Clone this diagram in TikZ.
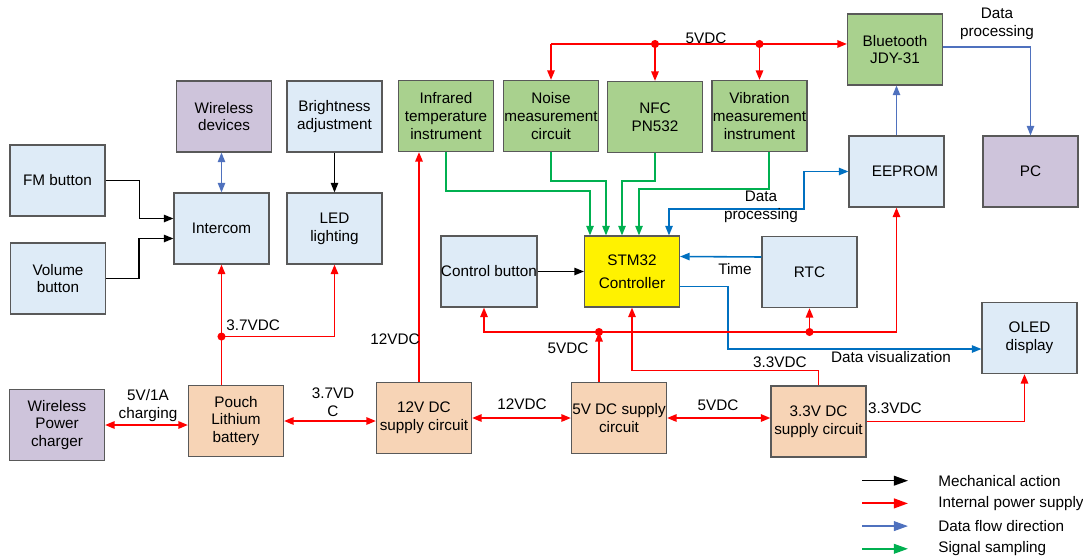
\documentclass[tikz,border=0pt]{standalone}
\usepackage{fontspec}
\setmainfont{Liberation Sans}
\usetikzlibrary{calc,arrows.meta}

\definecolor{lightbox}{RGB}{222,235,247}
\definecolor{purplebox}{RGB}{206,196,219}
\definecolor{greenbox}{RGB}{169,209,142}
\definecolor{peachbox}{RGB}{247,212,182}
\definecolor{pwred}{RGB}{255,0,0}
\definecolor{datablue}{RGB}{0,112,192}
\definecolor{flowblue}{RGB}{79,113,190}
\definecolor{siggreen}{RGB}{0,176,80}

\begin{document}
\begin{tikzpicture}
  [x=0.02cm, y=-0.02cm,
  font=\fontsize{8.7}{10.2}\selectfont,
  >={Triangle[length=5.5pt,width=4.2pt]},
  bbox/.style={draw=black!65, line width=0.6pt, minimum width=1.9cm,
    minimum height=1.42cm, inner sep=0pt, align=center},
  mech/.style={->, line width=0.9pt, black},
  pwr/.style={->, line width=1.1pt, pwred},
  flow/.style={->, line width=0.9pt, flowblue},
  data/.style={->, line width=0.9pt, datablue},
  sig/.style={->, line width=0.9pt, siggreen},
  legtip/.style={-{Triangle[length=8pt,width=5.5pt]}},
  dot/.style={circle, fill=pwred, inner sep=0pt, minimum size=4.6pt},
  lbl/.style={inner sep=0pt, align=center}]
  \useasboundingbox (0,0) rectangle (1083,558);

  % blocks
  \node[bbox,fill=lightbox] (fm) at (57.5,180.5) {FM button};
  \node[bbox,fill=lightbox] (vol) at (58,278.5) {Volume\\button};
  \node[bbox,fill=purplebox] (wdev) at (224,116.5) {Wireless\\devices};
  \node[bbox,fill=lightbox] (bright) at (334.5,116.5) {Brightness\\adjustment};
  \node[bbox,fill=lightbox] (intercom) at (221.5,228.5) {Intercom};
  \node[bbox,fill=lightbox] (led) at (334.5,228.5) {LED\\lighting};
  \node[bbox,fill=greenbox] (ir) at (446,116) {Infrared\\temperature\\instrument};
  \node[bbox,fill=greenbox] (noise) at (551,116) {Noise\\measurement\\circuit};
  \node[bbox,fill=greenbox] (nfc) at (655,117) {NFC\\PN532};
  \node[bbox,fill=greenbox] (vib) at (759.5,116) {Vibration\\measurement\\instrument};
  \node[bbox,fill=greenbox] (bt) at (895,49.5) {Bluetooth\\JDY-31};
  \node[bbox,fill=lightbox] (eeprom) at (896.5,171.5) {\hspace{9.6pt}EEPROM};
  \node[bbox,fill=purplebox] (pc) at (1030.5,171.5) {PC};
  \node[bbox,fill=lightbox] (ctrl) at (489,271.5) {Control button};
  \node[bbox,fill=yellow] (stm) at (632,271.5) {STM32\\[2.8pt]Controller};
  \node[bbox,fill=lightbox] (rtc) at (809.5,272) {RTC};
  \node[bbox,fill=lightbox] (oled) at (1029.5,338) {OLED\\display};
  \node[bbox,fill=purplebox] (charger) at (57,425) {Wireless\\Power\\charger};
  \node[bbox,fill=peachbox] (pouch) at (236,421) {Pouch\\Lithium\\battery};
  \node[bbox,fill=peachbox] (dc12) at (424,418) {12V DC\\supply circuit};
  \node[bbox,fill=peachbox] (dc5) at (619,418) {5V DC supply\\circuit};
  \node[bbox,fill=peachbox] (dc33) at (818.5,421.5) {3.3V DC\\supply circuit};

  % mechanical action
  \draw[mech] (fm.east) -- ++(34,0) |- ($(intercom.west)+(0,-10)$);
  \draw[mech] (vol.east) -- ++(33,0) |- ($(intercom.west)+(0,10)$);
  \draw[mech] (bright) -- (led);
  \draw[mech] (ctrl) -- (stm);

  % data flow
  \draw[flow,<->] (wdev.south -| intercom.north) -- (intercom.north);
  \draw[flow] (eeprom.north) -- (eeprom.north |- bt.south);
  \draw[flow] ($(bt.east)+(0,-2.5)$) -| (pc.north);
  \node[lbl] (dproc1) at (997,24) {Data\\processing};

  \coordinate (dp2) at (804,209);
  \draw[data,<->] ($(stm.north)+(37,0)$) |- (dp2) |- (eeprom.west);
  \node[lbl] (dproc2) at (761,207) {Data\\processing};
  \draw[data] ($(rtc.west)+(0,-15)$) -- ($(stm.east)+(0,-15)$);
  \node[lbl] (time) at (735,269) {Time};
  \draw[data] ($(stm.east)+(0,15)$) -- ++(48,0) |- ($(oled.west)+(0,11)$);
  \node[lbl] (dvis) at (891,357) {Data visualization};

  % signal sampling
  \draw[sig] (ir.south) -- ++(0,39) -| ($(stm.north)+(-42,0)$);
  \draw[sig] (noise.south) -- ++(0,29) -| ($(stm.north)+(-26,0)$);
  \draw[sig] (nfc.south) -- ++(0,28) -| ($(stm.north)+(-10,0)$);
  \draw[sig] ($(vib.south)+(9.5,0)$) -- ++(0,37) -| ($(stm.north)+(7,0)$);

  % internal power supply
  \coordinate (bus5) at ($(noise.north)+(0,-36)$);
  \draw[pwr] (bus5) -- (noise.north);
  \draw[pwr] (bus5) -- (bus5 -| bt.west);
  \draw[pwr] (bus5 -| nfc.north) -- (nfc.north);
  \draw[pwr] (bus5 -| vib.north) -- (vib.north);
  \node[dot] (d1) at (bus5 -| nfc.north) {};
  \node[dot] (d2) at (bus5 -| vib.north) {};
  \node[lbl] (v5top) at (706,38) {5VDC};

  \coordinate (j37) at ($(intercom.south)+(0,72)$);
  \draw[pwr] (pouch.north -| intercom.south) -- (intercom.south);
  \draw[pwr] (j37) -| (led.south);
  \node[dot] (d3) at (j37) {};
  \node[lbl, anchor=west] (v37) at (226,325) {3.7VDC};

  \draw[pwr] ($(dc12.north)+(-5,0)$) coordinate (p12) -- (p12 |- ir.south);
  \node[lbl] (v12) at (395,339) {12VDC};

  \coordinate (j5) at ($(dc5.north)+(-20,-50)$);
  \draw[pwr] (dc5.north -| j5) -- (j5);
  \draw[pwr] (j5) -| ($(ctrl.south)+(-5,0)$);
  \draw[pwr] (j5) -| (eeprom.south);
  \draw[pwr] (j5 -| rtc.south) -- (rtc.south);
  \node[dot] (d4) at (j5) {};
  \node[dot] (d5) at (j5 -| rtc.south) {};
  \node[lbl] (v5mid) at (568,348) {5VDC};

  \draw[pwr] (dc33.north) -- ++(0,-15) -| (stm.south);
  \node[lbl] (v33a) at (780,362) {3.3VDC};

  \draw[pwr,<->] (charger.east) -- (charger.east -| pouch.west);
  \node[lbl] (chg) at (148,406) {5V/1A\\charging};
  \draw[pwr,<->] (pouch.east) -- (pouch.east -| dc12.west);
  \node[lbl] (v37b) at (333,402) {3.7VD\\C};
  \draw[pwr,<->] (dc12.east) -- (dc12.east -| dc5.west);
  \node[lbl] (v12b) at (522,404) {12VDC};
  \draw[pwr,<->] (dc5.east) -- (dc5.east -| dc33.west);
  \node[lbl] (v5b) at (718,405) {5VDC};
  \draw[pwr] (dc33.east) -| ($(oled.south)+(-5,0)$);
  \node[lbl] (v33b) at (895,408) {3.3VDC};

  % legend
  \foreach \sty/\txt [count=\i] in {mech/Mechanical action,
      pwr/Internal power supply, flow/Data flow direction, sig/Signal sampling} {
    \coordinate (leg\i) at (862,458+\i*22.7);
    \draw[\sty,legtip] (leg\i) -- ++(46,0);
    \node[lbl, anchor=west] (legtxt\i) at (938,458+\i*22.7) {\txt};
  }
\end{tikzpicture}
\end{document}
